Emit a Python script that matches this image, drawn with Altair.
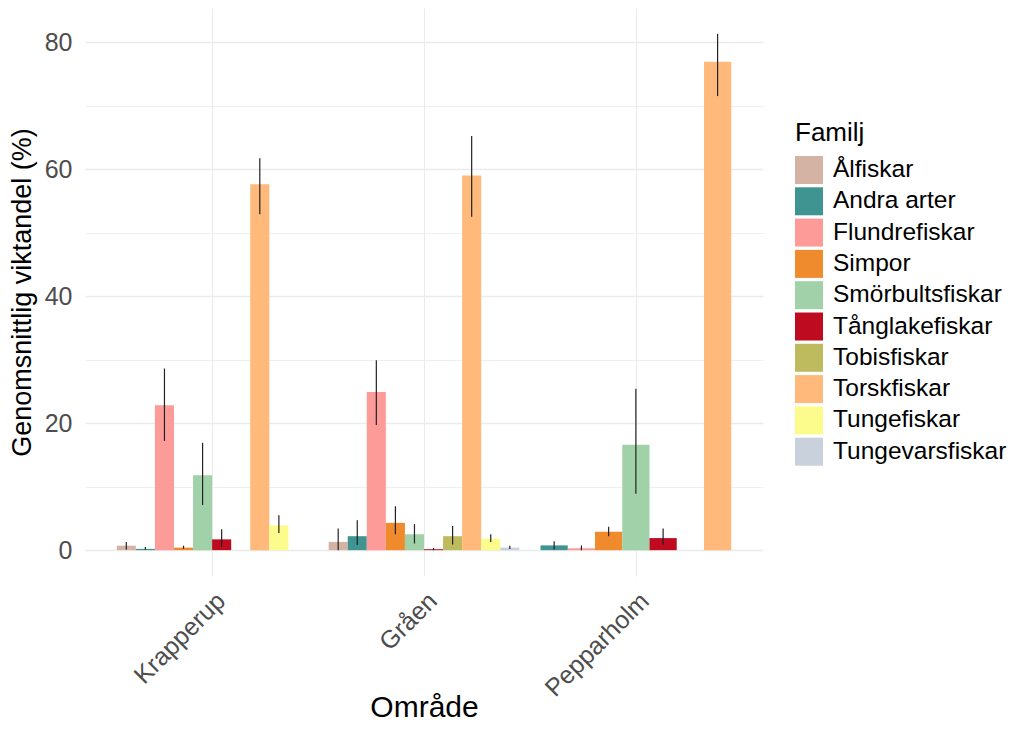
import altair as alt
import pandas as pd

# ---- data ----
areas = ["Krapperup", "Gråen", "Pepparholm"]
families = ["Ålfiskar", "Andra arter", "Flundrefiskar", "Simpor", "Smörbultsfiskar",
            "Tånglakefiskar", "Tobisfiskar", "Torskfiskar", "Tungefiskar", "Tungevarsfiskar"]
colors = ["#D4B3A5", "#3F9491", "#FD9B99", "#EF8B2C", "#A1D1A9",
          "#BE0B1F", "#BEBA5E", "#FEB97B", "#FCFC8D", "#C9D1DD"]

# mean values (None = family absent in that area)
mean_krapperup = [0.7, 0.2, 22.8, 0.4, 11.8, 1.7, 0.0, 57.6, 3.9, 0.0]
mean_graen = [1.3, 2.2, 24.9, 4.3, 2.5, 0.15, 2.2, 59.0, 1.8, 0.4]
mean_pepparholm = [None, 0.75, 0.3, 2.9, 16.6, 1.9, 0.0, 76.9, None, None]

low_krapperup = [0.1, 0.05, 17.2, 0.2, 7.1, 0.5, None, 52.9, 2.7, None]
high_krapperup = [1.3, 0.5, 28.6, 0.7, 16.9, 3.3, None, 61.7, 5.5, None]
low_graen = [0.0, 0.8, 19.7, 2.5, 1.05, 0.0, 0.9, 52.5, 1.3, 0.2]
high_graen = [3.4, 4.7, 29.9, 6.9, 4.1, 0.35, 3.8, 65.2, 2.5, 0.7]
low_pepparholm = [None, 0.1, 0.0, 2.2, 8.9, 0.8, None, 71.5, None, None]
high_pepparholm = [None, 1.4, 0.75, 3.7, 25.4, 3.4, None, 81.3, None, None]

means = [mean_krapperup, mean_graen, mean_pepparholm]
lows = [low_krapperup, low_graen, low_pepparholm]
highs = [high_krapperup, high_graen, high_pepparholm]

# ---- dodge positions (like ggplot position_dodge, width 0.9) ----
rows = []
for ai, area in enumerate(areas):
    present = [fi for fi, v in enumerate(means[ai]) if v is not None]
    n = len(present)
    w = 0.9 / n
    for slot, fi in enumerate(present):
        x0 = (ai + 1) - 0.45 + slot * w
        rows.append({
            "Område": area, "Familj": families[fi],
            "mean": means[ai][fi], "lo": lows[ai][fi], "hi": highs[ai][fi],
            "x0": x0, "x1": x0 + w, "xc": x0 + w / 2,
        })
df = pd.DataFrame(rows)
err = df.dropna(subset=["lo", "hi"])

FONT = "Liberation Sans"
label_expr = "[" + ",".join("'" + a + "'" for a in areas) + "][datum.value - 1]"

xscale = alt.Scale(domain=[0.4, len(areas) + 0.6], nice=False, zero=False)
yscale = alt.Scale(domain=[-4.07, 85.37], nice=False, zero=False)

xaxis = alt.Axis(values=list(range(1, len(areas) + 1)), labelExpr=label_expr,
                 title="Område", labelAngle=315, labelAlign="right", labelBaseline="top",
                 labelPadding=12, titleFontSize=30, titleBaseline="alphabetic",
                 titleY=140, grid=True)
yaxis = alt.Axis(values=list(range(0, 81, 10)),
                 labelExpr="datum.value % 20 === 0 ? datum.label : ''",
                 title="Genomsnittlig viktandel (%)", labelPadding=13, titlePadding=8,
                 titleFontSize=27,
                 gridWidth={"condition": {"test": "datum.value % 20 === 0", "value": 1.4},
                            "value": 0.8})

bars = alt.Chart(df).mark_bar().encode(
    x=alt.X("x0:Q", scale=xscale, axis=xaxis),
    x2="x1:Q",
    y=alt.Y("mean:Q", scale=yscale, axis=yaxis),
    y2=alt.datum(0),
    color=alt.Color("Familj:N", scale=alt.Scale(domain=families, range=colors),
                    legend=alt.Legend(title="Familj")),
)

bars_err = alt.Chart(err).mark_rule(color="#222222", strokeWidth=1.2).encode(
    x=alt.X("xc:Q", scale=xscale),
    y=alt.Y("lo:Q", scale=yscale),
    y2="hi:Q",
)

chart = alt.layer(bars, bars_err).properties(
    width=678, height=568,
    autosize=alt.AutoSizeParams(type="none"),
    padding={"left": 77, "top": 0, "right": 248, "bottom": 146},
).configure_view(stroke=None).configure_axis(
    domain=False, ticks=False, gridColor="#EBEBEB",
    labelFont=FONT, titleFont=FONT, labelFontSize=25,
    labelColor="#4D4D4D", titleColor="#000000", titleFontWeight="normal",
).configure_legend(
    orient="none", legendX=710, legendY=112,
    titleFont=FONT, labelFont=FONT, titleFontSize=26, labelFontSize=24.5,
    titleFontWeight="normal", titleColor="#000000", labelColor="#000000",
    symbolType="square", symbolSize=784, symbolStrokeWidth=0, symbolOpacity=1,
    rowPadding=3.3, labelOffset=10, titlePadding=10, labelLimit=0,
)

chart.save("out.html", embed_options={"renderer": "svg", "actions": False})
